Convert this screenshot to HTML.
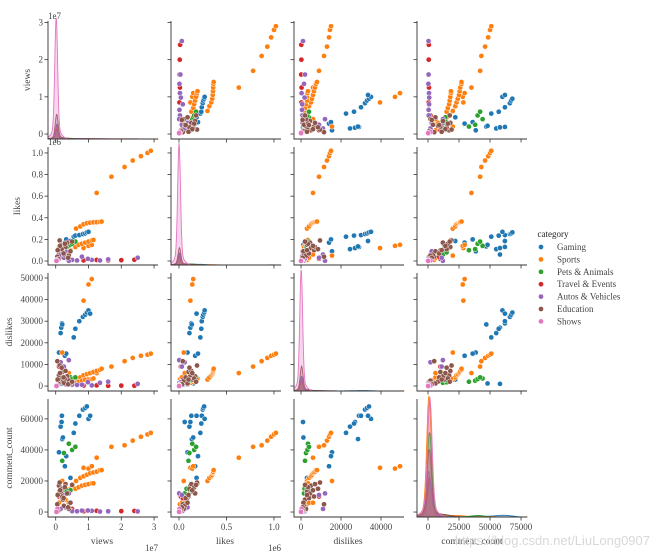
<!DOCTYPE html>
<html><head><meta charset="utf-8"><style>
html,body{margin:0;padding:0;background:#fff;}
svg{display:block;font-family:"Liberation Serif","Noto Serif CJK SC",serif;}
</style></head><body>
<svg id="chart" width="650" height="555" viewBox="0 0 650 555" xmlns="http://www.w3.org/2000/svg">
<rect width="650" height="555" fill="#fff"/>
<g id="panels"></g>
<g id="legend">
<text x="553" y="237" font-size="9" text-anchor="middle" fill="#222">category</text>
</g>
<text x="650" y="545" font-size="13" text-anchor="end" fill="#d8d8d8" font-family="Liberation Sans, sans-serif">https://blog.csdn.net/LiuLong0907</text>
</svg>
<script>
const categories=["Gaming","Sports","Pets & Animals","Travel & Events","Autos & Vehicles","Education","Shows"];
const colors=["#1f77b4","#ff7f0e","#2ca02c","#d62728","#9467bd","#8c564b","#e377c2"];

const gamingViews=[1.0e6,1.5e6,1.7e6,1.9e6,2.0e6,2.8e6,3.2e6,4.5e6,5.5e6,6.0e6,7.2e6,8.3e6,9.0e6,9.5e6,10.0e6,10.5e6,1.8e6,2.2e6];
const gamingLikes=[90e3,110e3,120e3,130e3,135e3,170e3,200e3,185e3,225e3,235e3,240e3,250e3,255e3,265e3,270e3,185e3,60e3,150e3];
const gamingDislikes=[15500,24500,27000,29000,28500,14000,15000,3000,22500,26500,30000,32000,33000,34000,35000,33500,1000,1200];
const gamingComments=[38500,55000,58000,62000,47000,29500,36000,22000,51000,57000,62000,66000,67000,68000,60000,62000,58000,48000];

const sportsViews=[12.5e6,17e6,21e6,23.5e6,26e6,28e6,29e6,8.5e6,10e6,11e6,6.2e6,7.5e6,8.5e6,9.5e6,10.5e6,11.5e6,12.5e6,13.5e6,14e6,6e6,7e6,8e6,9e6,10e6,11e6,11.5e6,0.5e6,1e6,2e6,3e6,4e6,4.5e6];
const sportsLikes=[630e3,780e3,870e3,930e3,970e3,1000e3,1020e3,120e3,140e3,150e3,300e3,320e3,340e3,350e3,355e3,358e3,360e3,362e3,365e3,130e3,150e3,160e3,170e3,180e3,190e3,195e3,10e3,30e3,50e3,80e3,60e3,100e3];
const sportsDislikes=[6000,9000,11500,13000,14000,14500,15000,39500,47000,49500,3000,4000,5000,5500,6000,6500,7000,7500,8000,1500,2000,2500,3000,3000,3200,3500,3000,4000,15500,2000,6000,3500];
const sportsComments=[35000,42000,43000,46000,48500,50000,51000,28500,28000,29500,20000,22000,23000,24000,25000,25500,26000,27000,27000,15000,16000,17000,17500,18000,18500,18500,5000,6000,20000,8000,6000,15000];

const petsViews=[1.0e6,1.5e6,2.0e6,2.5e6,3.0e6,3.5e6,4.0e6,4.5e6,5.0e6,6.0e6];
const petsLikes=[60e3,80e3,100e3,110e3,120e3,130e3,140e3,150e3,160e3,180e3];
const petsDislikes=[1500,1800,2000,2500,3000,2800,3500,4000,3200,4000];
const petsComments=[12000,15000,33000,38000,13000,14000,44000,14000,40000,42000];

const travelViews=[8.5e6,12.5e6,16e6,20e6,24e6,1e6,2e6,5e6];
const travelLikes=[5e3,10e3,5e3,8e3,12e3,20e3,40e3,10e3];
const travelDislikes=[200,300,100,200,150,9000,3000,500];
const travelComments=[500,800,300,600,700,10000,9000,2000];

const autosViews=[25e6,16e6,13.5e6,11e6,9.8e6,6.5e6,5e6,4e6,2.5e6,1.5e6,3e6,8e6];
const autosLikes=[30e3,15e3,5e3,10e3,20e3,5e3,10e3,2e3,30e3,60e3,90e3,40e3];
const autosDislikes=[1000,2000,1500,300,1800,500,700,12000,9000,11000,800,600];
const autosComments=[400,500,300,800,1000,500,600,12000,11000,2000,3000,900];

const eduViews=[0.5e6,1.0e6,1.2e6,1.5e6,2.0e6,2.2e6,2.5e6,3.0e6,3.5e6,4.0e6,0.8e6,1.8e6,2.8e6,4.5e6,0.3e6,1.3e6,2.4e6,3.8e6,5.0e6,0.6e6];
const eduLikes=[40e3,120e3,190e3,150e3,100e3,80e3,60e3,130e3,170e3,50e3,20e3,110e3,160e3,90e3,10e3,140e3,70e3,30e3,180e3,100e3];
const eduDislikes=[11500,5000,9500,3000,6500,2000,1500,7000,4500,2500,1000,8500,3500,1200,500,6000,4000,800,2000,3000];
const eduComments=[5000,17000,19000,13000,10000,8000,4000,18000,12000,2000,1000,15000,16000,6000,500,14000,9000,3000,17500,11000];

const showsViews=[0.1e6,0.2e6,0.3e6,0.5e6,0.15e6,0.25e6];
const showsLikes=[1e3,2e3,3e3,5e3,2e3,1e3];
const showsDislikes=[100,200,50,300,100,0];
const showsComments=[200,500,1000,2000,300,100];

// relative diagonal KDE peak heights (per category)
const viewsPeaks=[0.12,0.1,0.1,0.08,0.1,0.2,1.0];
const likesPeaks=[0.1,0.08,0.08,0.06,0.08,0.14,1.0];
const dislikesPeaks=[0.12,0.1,0.08,0.08,0.1,0.2,1.0];
const commentsPeaks=[0.3,1.0,0.7,0.3,0.35,0.55,0.95];
// peak centres (data units)
const viewsPeakAt=[0.4e6,0.5e6,0.4e6,0.3e6,0.3e6,0.3e6,0.15e6];
const likesPeakAt=[5e3,5e3,5e3,2e3,2e3,5e3,1e3];
const dislikesPeakAt=[300,300,300,200,200,300,100];
const commentsPeakAt=[1500,800,1200,1000,600,1000,1500];

const variables=["views","likes","dislikes","comment_count"];
const viewsTicks=[0,1e7,2e7,3e7]; const viewsTickLabels=["0","1","2","3"];
const likesTicks=[0,2e5,4e5,6e5,8e5,1e6]; const likesTickLabels=["0.0","0.2","0.4","0.6","0.8","1.0"];
const likesXTicks=[0,5e5,1e6]; const likesXTickLabels=["0.0","0.5","1.0"];
const dislikesTicks=[0,10000,20000,30000,40000,50000]; const dislikesTickLabels=["0","10000","20000","30000","40000","50000"];
const dislikesXTicks=[0,20000,40000]; const dislikesXTickLabels=["0","20000","40000"];
const commentsTicks=[0,20000,40000,60000]; const commentsTickLabels=["0","20000","40000","60000"];
const commentsXTicks=[0,25000,50000,75000]; const commentsXTickLabels=["0","25000","50000","75000"];

const series=[
 [gamingViews,gamingLikes,gamingDislikes,gamingComments],
 [sportsViews,sportsLikes,sportsDislikes,sportsComments],
 [petsViews,petsLikes,petsDislikes,petsComments],
 [travelViews,travelLikes,travelDislikes,travelComments],
 [autosViews,autosLikes,autosDislikes,autosComments],
 [eduViews,eduLikes,eduDislikes,eduComments],
 [showsViews,showsLikes,showsDislikes,showsComments]];
const peaks=[viewsPeaks,likesPeaks,dislikesPeaks,commentsPeaks];
const peakAt=[viewsPeakAt,likesPeakAt,dislikesPeakAt,commentsPeakAt];

const colX=[48,171,294,417], rowY=[21,147,273,399], W=110, H=118;
const xDom=[[-0.235e7,3.12e7],[-0.084e6,1.074e6],[-3500,51500],[-8870,79800]];
const yDom=[[-0.134e7,3.04e7],[-0.037e6,1.055e6],[-2300,52300],[-3200,72800]];
const xTicks=[[viewsTicks,viewsTickLabels],[likesXTicks,likesXTickLabels],[dislikesXTicks,dislikesXTickLabels],[commentsXTicks,commentsXTickLabels]];
const yTicks=[[viewsTicks,viewsTickLabels],[likesTicks,likesTickLabels],[dislikesTicks,dislikesTickLabels],[commentsTicks,commentsTickLabels]];
const NS="http://www.w3.org/2000/svg";
const root=document.getElementById("panels");
function el(tag,attrs,parent){const e=document.createElementNS(NS,tag);for(const k in attrs)e.setAttribute(k,attrs[k]);(parent||root).appendChild(e);return e;}
function sx(c,v){const d=xDom[c];return colX[c]+(v-d[0])/(d[1]-d[0])*W;}
function sy(r,v){const d=yDom[r];return rowY[r]+H-(v-d[0])/(d[1]-d[0])*H;}

for(let r=0;r<4;r++){for(let c=0;c<4;c++){
  const g=el("g",{});
  
  
  const x0=colX[c],y0=rowY[r];
  if(r===c){
    const pw=(c===3)?2.2:1.4;
    series.forEach((s,k)=>{
      const vals=s[c].map(v=>sx(c,v)-x0);
      const n=vals.length;
      const centre=sx(c,peakAt[c][k])-x0;
      const amp=peaks[c][k]*(H-6);
      let dstr="M"+x0+","+(y0+H);
      for(let px=0;px<=W;px+=0.5){
        let tail=0;vals.forEach(v=>{tail+=Math.exp(-0.5*((px-v)/5)**2)});tail/=n;
        const h=amp*Math.exp(-0.5*((px-centre)/pw)**2)+amp*0.08*Math.exp(-0.5*((px-centre)/(pw*3))**2)+1.2*tail+(c===3?3*tail:0);
        dstr+=" L"+(x0+px).toFixed(2)+","+(y0+H-h).toFixed(2);
      }
      dstr+=" L"+(x0+W)+","+(y0+H)+" Z";
      const p=el("path",{d:dstr,fill:colors[k],"fill-opacity":0.3,stroke:colors[k],"stroke-width":0.9},g);
      
      
    });
  } else {
    series.forEach((s,k)=>{
      s[c].forEach((v,i)=>{
        const cx=sx(c,v),cy=sy(r,s[r][i]);
        if(cx<x0||cx>x0+W||cy<y0||cy>y0+H)return;
        const pt=el("circle",{cx:cx.toFixed(2),cy:cy.toFixed(2),r:2.6,fill:colors[k],stroke:"#fff","stroke-width":0.5},g);
        
        
      });
    });
  }
  el("path",{d:`M${x0},${y0} L${x0},${y0+H} L${x0+W},${y0+H}`,fill:"none",stroke:"#333","stroke-width":0.9},g);
  const yt=yTicks[r];
  yt[0].forEach((t,i)=>{const y=sy(r,t);el("line",{x1:x0-3.5,x2:x0,y1:y,y2:y,stroke:"#333","stroke-width":0.8},g);
    if(c===0){const tx=el("text",{x:x0-5,y:y+3,"font-size":9,"text-anchor":"end",fill:"#444"},g);tx.textContent=yt[1][i];}});
  const xt=xTicks[c];
  xt[0].forEach((t,i)=>{const x=sx(c,t);el("line",{x1:x,x2:x,y1:y0+H,y2:y0+H+3.5,stroke:"#333","stroke-width":0.8},g);
    if(r===3){const tx=el("text",{x:x,y:y0+H+13,"font-size":9,"text-anchor":"middle",fill:"#444"},g);tx.textContent=xt[1][i];}});
}}
const xl=[[102,"views"],[225,"likes"],[348,"dislikes"],[472,"comment_count"]];
xl.forEach((a,i)=>{const t=el("text",{x:a[0],y:544,"font-size":9.5,"text-anchor":"middle",fill:"#444"});t.textContent=a[1];
 });
const yl=[[30,80,"views"],[20,206,"likes"],[12,332,"dislikes"],[12,458,"comment_count"]];
yl.forEach((a,i)=>{const t=el("text",{x:a[0],y:a[1],"font-size":9.5,"text-anchor":"middle",fill:"#444",transform:`rotate(-90 ${a[0]} ${a[1]})`});t.textContent=a[2];
 });
const offs=[[48,19,"1e7","start"],[48,145,"1e6","start"],[158,551,"1e7","end"],[281,551,"1e6","end"]];
offs.forEach((a,i)=>{const t=el("text",{x:a[0],y:a[1],"font-size":9,"text-anchor":a[3],fill:"#444"});t.textContent=a[2];
 });
const lg=document.getElementById("legend");
categories.forEach((n,k)=>{const y=247+k*12.4;
 const g=el("g",{},lg);
 
 
 el("circle",{cx:541,cy:y,r:2.6,fill:colors[k],stroke:"#fff","stroke-width":0.5},g);
 const t=el("text",{x:557,y:y+3,"font-size":9,fill:"#444"},g);t.textContent=n;});
</script>
</body></html>
